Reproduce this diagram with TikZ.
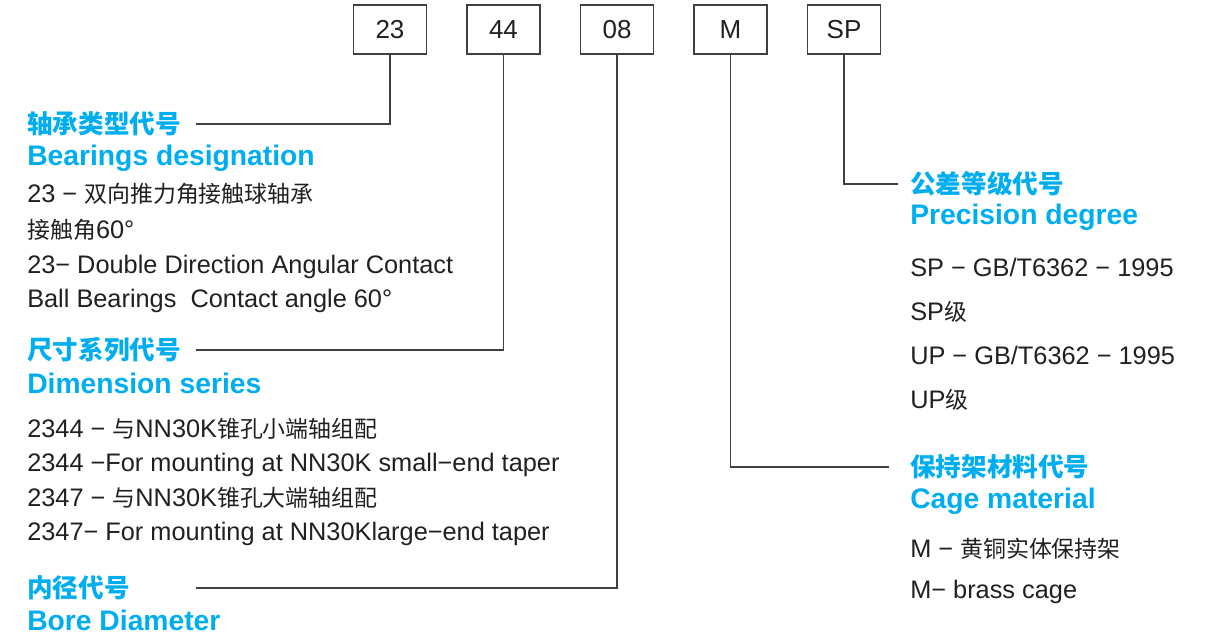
\documentclass[tikz,border=0pt]{standalone}
\usepackage{fontspec}
\setmainfont{Liberation Sans}
\newfontfamily\cjk[Scale=0.905]{Noto Sans CJK SC}
\usepackage{tikz}
\usetikzlibrary{positioning}
\definecolor{headblue}{RGB}{0,174,239}
\definecolor{inkgray}{RGB}{35,31,32}
\definecolor{linegray}{RGB}{64,64,64}

\begin{document}
\begin{tikzpicture}[x=0.75pt, y=-0.75pt,
    codebox/.style={rectangle, draw=linegray, line width=0.9pt, minimum width=54.75pt, minimum height=36.75pt, inner sep=0pt, font=\fontsize{19.5}{22}\selectfont, text=inkgray},
    cnhead/.style={anchor=west, inner sep=0pt, text=headblue, font=\fontsize{21.2}{24}\selectfont\cjk\bfseries},
    enhead/.style={anchor=base west, inner sep=0pt, text=headblue, font=\fontsize{21.2}{24}\selectfont\bfseries},
    body/.style={anchor=base west, inner sep=0pt, text=inkgray, font=\fontsize{19}{22}\selectfont},
    link/.style={draw=linegray, line width=0.9pt}
]
    \useasboundingbox (0,0) rectangle (1208,636);

    % Code boxes
    \node[codebox] (b23) at (390,29.5) {23};
    \node[codebox] (b44) at (503.5,29.5) {44};
    \node[codebox] (b08) at (617,29.5) {08};
    \node[codebox] (bM) at (730.5,29.5) {M};
    \node[codebox] (bSP) at (844,29.5) {SP};

    % Bearings designation
    \node[cnhead] (t23) at (27,124) {轴承类型代号};
    \node[enhead] (e23) at (27,165) {Bearings designation};
    \node[body] (d23a) at (27,202) {23 − {\cjk 双向推力角接触球轴承}};
    \node[body] (d23b) at (27,238) {{\cjk 接触角}60°};
    \node[body] (d23c) at (27,273) {23− Double Direction Angular Contact};
    \node[body] (d23d) at (27,307) {Ball Bearings~ Contact angle 60°};

    % Dimension series
    \node[cnhead] (t44) at (27,350) {尺寸系列代号};
    \node[enhead] (e44) at (27,393) {Dimension series};
    \node[body] (d44a) at (27,437) {2344 − {\cjk 与}NN30K{\cjk 锥孔小端轴组配}};
    \node[body] (d44b) at (27,471) {2344 −For mounting at NN30K small−end taper};
    \node[body] (d44c) at (27,506) {2347 − {\cjk 与}NN30K{\cjk 锥孔大端轴组配}};
    \node[body] (d44d) at (27,540) {2347− For mounting at NN30Klarge−end taper};

    % Bore diameter
    \node[cnhead] (t08) at (27,588) {内径代号};
    \node[enhead] (e08) at (27,630) {Bore Diameter};

    % Precision degree
    \node[cnhead] (tSP) at (910,184) {公差等级代号};
    \node[enhead] (eSP) at (910,224) {Precision degree};
    \node[body] (dSPa) at (910,276) {SP − GB/T6362 − 1995};
    \node[body] (dSPb) at (910,320) {SP{\cjk 级}};
    \node[body] (dSPc) at (910,364) {UP − GB/T6362 − 1995};
    \node[body] (dSPd) at (910,408) {UP{\cjk 级}};

    % Cage material
    \node[cnhead] (tM) at (910,467) {保持架材料代号};
    \node[enhead] (eM) at (910,508) {Cage material};
    \node[body] (dMa) at (910,557) {M − {\cjk 黄铜实体保持架}};
    \node[body] (dMb) at (910,598) {M− brass cage};

    % Leader lines
    \coordinate (leftend) at (196,0);
    \draw[link] (b23.south) |- (t23.east -| leftend);
    \draw[link] (b44.south) |- (t44.east -| leftend);
    \draw[link] (b08.south) |- (t08.east -| leftend);
    \draw[link] (bSP.south) |- ([xshift=-9pt]tSP.west);
    \draw[link] (bM.south) |- ([xshift=-15.75pt]tM.west);
\end{tikzpicture}
\end{document}
